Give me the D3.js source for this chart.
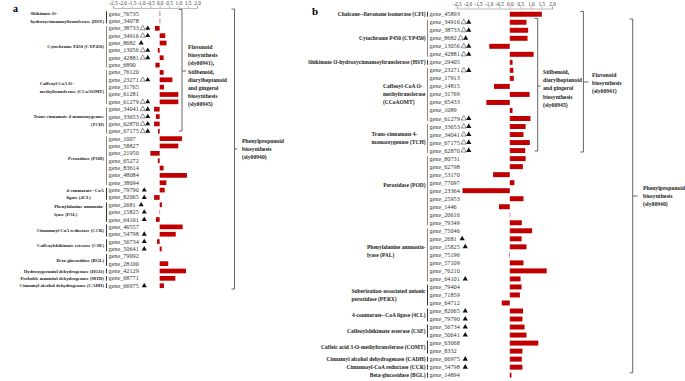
<!DOCTYPE html>
<html>
<head>
<meta charset="utf-8">
<script src="https://cdnjs.cloudflare.com/ajax/libs/d3/7.8.5/d3.min.js"></script>
<style>
  body { margin: 0; background: #fff; }
  svg { display: block; font-family: "Liberation Serif", serif; }
  .gene { font-size: 6.2px; fill: #333; }
  .grp { font-weight: bold; fill: #222; }
  .path { font-size: 5.7px; font-weight: bold; fill: #222; }
</style>
</head>
<body>
<div id="chart"></div>
<script>
const WIDTH = 685
const HEIGHT = 381
const ticks = [-2.5, -2, -1.5, -1, -0.5, 0, 0.5, 1, 1.5, 2]

// panel a
const genesA = ["76735","34078","38733","34916","8682","13056","42881","6890","76120","23271","31765","61281","61279","34041","33653","62870","67175","1007","58827","21950","65272","83614","48084","38094","79790","82065","2681","15825","64101","46557","54798","56734","50641","79092","28100","42129","68771","66975"]
const valuesA = [0.03,0.03,-0.25,0.3,0.37,-0.1,0.21,-0.23,0.21,0.68,0.23,1,1,-0.3,-0.2,-0.3,-0.09,1.2,1,-0.5,-0.1,0.21,1.46,0.36,0.27,-0.3,0.12,0.02,-0.2,1.23,0.86,-0.14,0.11,0,0.46,1.41,0.84,0.23]
// 0 none, 1 filled triangle, 2 open and filled
const marksA = [0,0,2,2,1,2,2,0,0,2,0,0,2,2,2,2,2,0,0,0,0,0,0,0,1,1,1,1,1,0,1,1,1,0,0,0,0,1]
const groupsA = [
  {lines: ["Shikimate O-", "hydroxycinnamoyltransferase (HST)"], n: 2},
  {lines: ["Cytochrome P450 (CYP450)"], n: 6},
  {lines: ["Caffeoyl-CoA O-", "methyltransferase (CCoAOMT)"], n: 5},
  {lines: ["Trans-cinnamate 4-monooxygenase", "(TCH)"], n: 4, right: true},
  {lines: ["Peroxidase (POD)"], n: 7},
  {lines: ["4-coumarate--CoA", "ligase (4CL)"], n: 2},
  {lines: ["Phenylalanine ammonia-", "lyase (PAL)"], n: 3},
  {lines: ["Cinnamoyl-CoA reductase (CCR)"], n: 2},
  {lines: ["Caffeoylshikimate esterase (CSE)"], n: 2},
  {lines: ["Beta-glucosidase (BGL)"], n: 2},
  {lines: ["Hydroxygeraniol dehydrogenase (HGO)"], n: 1},
  {lines: ["Probable mannitol dehydrogenase (MTD)"], n: 1},
  {lines: ["Cinnamyl alcohol dehydrogenase (CADH)"], n: 1}
]

// panel b
const genesB = ["45893","34916","38733","8682","13056","42881","29405","23271","17913","14815","31769","65433","1089","61279","33653","34041","67175","62870","80731","62798","53170","77097","23364","25953","1446","20616","79349","75046","2681","15825","75196","57109","76210","64101","79404","71859","64712","82065","79790","56734","50641","63068","8332","66975","54798","14894"]
const valuesB = [1.52,0.79,0.87,0.84,-0.97,1.13,0.13,0.17,0.19,-0.75,0.94,-1.11,0.13,0.98,0.75,0.65,0.95,0.73,0.75,0.62,-0.79,0.22,-2.24,0.65,-0.51,0.02,0.57,1.06,0.56,0.79,-0.02,0.65,1.75,0.51,0.56,0.48,-0.38,0.63,0.6,0.7,0.79,1.35,0.6,0.57,0.6,0.08]
const marksB = [0,2,2,2,2,2,0,2,0,0,0,0,0,2,2,2,2,2,0,0,0,0,0,0,0,0,0,0,1,1,0,0,0,1,0,0,0,1,1,1,1,0,0,1,1,0]
const groupsB = [
  {lines: ["Chalcone--flavonone isomerase (CFI)"], n: 1},
  {lines: ["Cytochrome P450 (CYP450)"], n: 5},
  {lines: ["Shikimate O-hydroxycinnamoyltransferase (HST)"], n: 1},
  {lines: ["Caffeoyl-CoA O-", "methyltransferase", "(CCoAOMT)"], n: 7},
  {lines: ["Trans-cinnamate 4-", "monooxygenase (TCH)"], n: 4},
  {lines: ["Peroxidase (POD)"], n: 9},
  {lines: ["Phenylalanine ammonia-", "lyase (PAL)"], n: 7},
  {lines: ["Suberization-associated anionic", "peroxidase (PERX)"], n: 3},
  {lines: ["4-coumarate--CoA ligase (4CL)"], n: 2},
  {lines: ["Caffeoylshikimate esterase (CSE)"], n: 2},
  {lines: ["Caffeic acid 3-O-methyltransferase (COMT)"], n: 2},
  {lines: ["Cinnamyl alcohol dehydrogenase (CADH)"], n: 1},
  {lines: ["Cinnamoyl-CoA reductase (CCR)"], n: 1},
  {lines: ["Beta-glucosidase (BGL)"], n: 1}
]

const pathwayA1 = ["Flavonoid", "biosynthesis", "(sly00941),", "Stilbenoid,", "diarylheptanoid", "and  gingerol", "biosynthesis", "(sly00945)"]
const pathwayA2 = ["Phenylpropanoid", "biosynthesis", "(sly00940)"]
const pathwayB1 = ["Stilbenoid,", "diarylheptanoid", "and  gingerol", "biosynthesis", "(sly00945)"]
const pathwayB2 = ["Flavonoid", "biosynthesis", "(sly00941)"]
const pathwayB3 = ["Phenylpropanoid", "biosynthesis", "(sly00940)"]

const svg = d3.select("#chart").append("svg")
    .attr("width", WIDTH)
    .attr("height", HEIGHT)

// one panel: labels, markers, bars and the gene group rules
function drawPanel(o) {
    const g = svg.append("g")

    const x = d3.scaleLinear().domain([-2.5, 2]).range(o.xRange)
    const y = d3.scaleBand().domain(o.genes).range(o.yRange).padding(o.pad)
    const cy = d => y(d) + y.bandwidth() / 2

    const axis = d3.axisTop(x).tickValues(ticks).tickFormat(d3.format(".1f")).tickSize(2).tickPadding(1)
    const axisG = g.append("g")
        .attr("transform", `translate(0, ${o.axisY})`)
        .call(axis)
    axisG.selectAll("path, line").attr("stroke", "#777").attr("stroke-width", 0.5)
    axisG.selectAll("text")
        .attr("font-size", 5.2)
        .attr("font-family", "Liberation Serif")
        .attr("fill", "#333")
        .text(d => d3.format(".1f")(d).replace("\u2212", "-"))

    g.selectAll("rect.bar")
        .data(o.values)
        .enter().append("rect")
        .attr("class", "bar")
        .attr("x", d => Math.min(x(0), x(d)))
        .attr("y", (d, i) => y(o.genes[i]))
        .attr("width", d => Math.abs(x(d) - x(0)))
        .attr("height", y.bandwidth())
        .attr("fill", "#c00000")

    g.selectAll("text.gene")
        .data(o.genes)
        .enter().append("text")
        .attr("class", "gene")
        .attr("x", o.geneX)
        .attr("y", d => cy(d) + 2)
        .text(d => "gene_" + d)

    // triangles follow the end of the gene label
    const tri = d3.symbol().type(d3.symbolTriangle).size(o.triSize)
    g.selectAll("text.gene").each(function (d, i) {
        const m = o.marks[i]
        if (!m) return
        const end = this.getComputedTextLength() + o.geneX
        if (m === 2) {
            g.append("path").attr("d", tri())
                .attr("transform", `translate(${end + 4}, ${cy(d)})`)
                .attr("fill", "#fff").attr("stroke", "#222").attr("stroke-width", 0.5)
        }
        g.append("path").attr("d", tri())
            .attr("transform", `translate(${end + (m === 2 ? 9 : 5.5)}, ${cy(d)})`)
            .attr("fill", "#111")
    })

    let start = 0
    o.groups.forEach((gr, gi) => {
        const first = o.genes[start]
        const last = o.genes[start + gr.n - 1]
        g.append("line")
            .attr("x1", o.ruleX).attr("x2", o.ruleX)
            .attr("y1", y(first)).attr("y2", y(last) + y.bandwidth())
            .attr("stroke", gr.n > 3 ? "#888" : "#333")
            .attr("stroke-width", 1)
        const mid = (cy(first) + cy(last)) / 2 + (o.labelShift[gi] || 0)
        const labels = gr.lines.map((t, k) => g.append("text")
            .attr("class", "grp")
            .attr("font-size", o.groupFont)
            .attr("y", mid + (k - (gr.lines.length - 1) / 2) * o.groupLine + 1.7)
            .text(t))
        // single lines sit against the rule, wrapped ones share a left edge
        const widest = d3.max(labels, l => l.node().getComputedTextLength())
        labels.forEach(l => {
            if (gr.right || labels.length === 1) {
                l.attr("x", o.labelEnd).attr("text-anchor", "end")
            } else {
                l.attr("x", o.labelEnd - widest)
            }
        })
        start += gr.n
    })
}

drawPanel({genes: genesA, values: valuesA, marks: marksA, groups: groupsA,
    xRange: [113, 197], yRange: [8.6, 290.7], pad: 0.36, axisY: 8,
    geneX: 108.5, ruleX: 106.5, labelEnd: 104, groupFont: 4.7, groupLine: 7.5, triSize: 11,
    labelShift: {4: -2, 6: -2}})

drawPanel({genes: genesB, values: valuesB, marks: marksB, groups: groupsB,
    xRange: [457, 552], yRange: [8.7, 380.7], pad: 0.38, axisY: 8.5,
    geneX: 429.5, ruleX: 427.5, labelEnd: 425.5, groupFont: 5.5, groupLine: 8, triSize: 12,
    labelShift: {5: -5.7, 6: -3.5}})

function bracket(x, y1, y2, midY, dir) {
    svg.append("path")
        .attr("d", `M${x - 3},${y1} H${x} V${y2} H${x - 3} M${x},${midY} H${x + dir}`)
        .attr("fill", "none").attr("stroke", "#666").attr("stroke-width", 1)
}
function block(lines, x, y0, step) {
    lines.forEach((t, i) => {
        svg.append("text").attr("class", "path")
            .attr("x", x).attr("y", y0 + i * step).text(t)
    })
}

bracket(182, 9.5, 131, 71, 4)
bracket(234.5, 9, 289, 149, 3)
block(pathwayA1, 188, 49, 8.2)
block(pathwayA2, 242, 143, 8.2)
bracket(537.7, 18.5, 151, 86, 3)
bracket(583.4, 11.5, 152, 82, 5)
bracket(632.7, 19, 372.7, 196, 5)
block(pathwayB1, 543, 74, 8.2)
block(pathwayB2, 592, 77, 8.2)
block(pathwayB3, 643, 190, 8.2)

svg.append("text").attr("x", 13).attr("y", 12).attr("font-size", 10).attr("font-weight", "bold").text("a")
svg.append("text").attr("x", 312).attr("y", 15).attr("font-size", 11).attr("font-weight", "bold").text("b")
</script>
</body>
</html>
